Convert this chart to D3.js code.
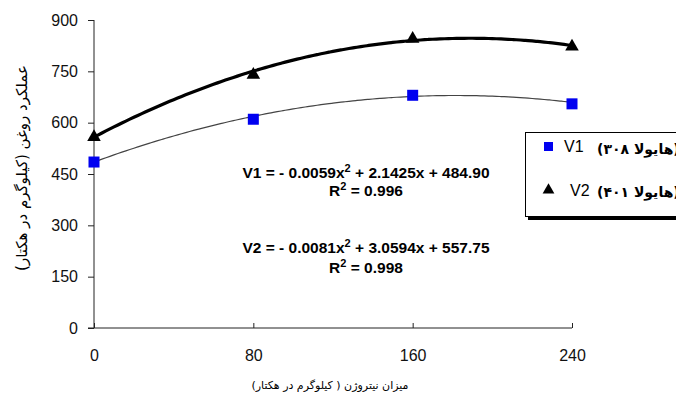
<!DOCTYPE html>
<html>
<head>
<meta charset="utf-8">
<script src="https://cdn.jsdelivr.net/npm/d3@7"></script>
<style>
  html, body { margin: 0; padding: 0; background: white; overflow: hidden; }
  text { font-family: "Liberation Sans", Arial, sans-serif; }
  .fa { font-family: "DejaVu Sans", sans-serif; }
</style>
</head>
<body>
<svg id="chart" width="676" height="401"></svg>
<script>
const nitrogen = [0, 80, 160, 240];
const v1Values = [485, 610, 680, 655];
const v2Values = [558, 740, 845, 822];
const yTicks = [0, 150, 300, 450, 600, 750, 900];

// trendline coefficients [a, b, c] for a*x^2 + b*x + c, as printed on the chart
const v1Coef = [-0.0059, 2.1425, 484.90];
const v2Coef = [-0.0081, 3.0594, 557.75];

const v1Label = "V1";
const v2Label = "V2";
const v1Name = "(هایولا ۳۰۸)";
const v2Name = "(هایولا ۴۰۱)";
const yTitle = "عملکرد روغن (کیلوگرم در هکتار)";
const xTitle = "میزان نیتروژن ( کیلوگرم در هکتار)";

const svg = d3.select("#chart");

const x = d3.scaleLinear().domain([0, 240]).range([94, 572]);
const y = d3.scaleLinear().domain([0, 900]).range([328, 20]);

// Y axis
const yAxis = svg.append("g")
  .attr("transform", `translate(${x(0)},0)`)
  .call(d3.axisLeft(y).tickValues(yTicks).tickSize(6).tickPadding(10));
yAxis.select(".domain").attr("stroke", "#222").attr("d", `M0,${y(900)}V${y(0)}`);
yAxis.selectAll(".tick line").attr("stroke", "#222");
yAxis.selectAll(".tick text")
  .attr("font-size", 16)
  .attr("fill", "#111")
  .attr("font-family", "Liberation Sans, Arial, sans-serif");

// X axis (ticks point inward)
const xAxis = svg.append("g")
  .attr("transform", `translate(0,${y(0)})`)
  .call(d3.axisBottom(x).tickValues(nitrogen).tickSize(-5).tickPadding(22));
xAxis.select(".domain").attr("stroke", "#222").attr("d", `M${x(0) - 6},0H${x(240)}`);
xAxis.selectAll(".tick line").attr("stroke", "#222");
xAxis.selectAll(".tick text")
  .attr("font-size", 16)
  .attr("fill", "#111")
  .attr("font-family", "Liberation Sans, Arial, sans-serif");

// Trendlines
const curve = (coef) => d3.range(0, 241, 2).map((n) => [n, coef[0] * n * n + coef[1] * n + coef[2]]);
const line = d3.line().x((d) => x(d[0])).y((d) => y(d[1])).curve(d3.curveBasis);

svg.append("path")
  .datum(curve(v1Coef))
  .attr("d", line)
  .attr("fill", "none")
  .attr("stroke", "#444")
  .attr("stroke-width", 1.2);

svg.append("path")
  .datum(curve(v2Coef))
  .attr("d", line)
  .attr("fill", "none")
  .attr("stroke", "#000")
  .attr("stroke-width", 3.2);

// Markers
const sq = 11;
svg.append("g").selectAll("rect")
  .data(nitrogen.map((n, i) => [n, v1Values[i]]))
  .join("rect")
  .attr("x", (d) => x(d[0]) - sq / 2)
  .attr("y", (d) => y(d[1]) - sq / 2)
  .attr("width", sq)
  .attr("height", sq)
  .attr("fill", "#0000f0");

const tri = d3.symbol().type(d3.symbolTriangle).size(80);
svg.append("g").selectAll("path")
  .data(nitrogen.map((n, i) => [n, v2Values[i]]))
  .join("path")
  .attr("d", tri)
  .attr("transform", (d) => `translate(${x(d[0])},${y(d[1])})`)
  .attr("fill", "#000");

// Equations
const eqs = svg.append("g")
  .attr("font-weight", "bold")
  .attr("font-size", 15.5)
  .attr("text-anchor", "middle")
  .attr("fill", "#000");

function equation(yPos, name, coef) {
  const t = eqs.append("text").attr("x", 366).attr("y", yPos);
  t.append("tspan").text(`${name} = - ${Math.abs(coef[0]).toFixed(4)}x`);
  t.append("tspan").attr("font-size", 11).attr("dy", -6).text("2");
  t.append("tspan").attr("dy", 6).text(` + ${coef[1].toFixed(4)}x + ${coef[2].toFixed(2)}`);
}
function rsq(yPos, val) {
  const t = eqs.append("text").attr("x", 366).attr("y", yPos);
  t.append("tspan").text("R");
  t.append("tspan").attr("font-size", 11).attr("dy", -6).text("2");
  t.append("tspan").attr("dy", 6).text(` = ${val}`);
}
equation(178, v1Label, v1Coef);
rsq(196, "0.996");
equation(253, v2Label, v2Coef);
rsq(273, "0.998");

// Legend
const lg = svg.append("g");
lg.append("rect").attr("x", 528).attr("y", 135).attr("width", 200).attr("height", 85).attr("fill", "#000");
lg.append("rect").attr("x", 525.5).attr("y", 132.5).attr("width", 200).attr("height", 84)
  .attr("fill", "#fff").attr("stroke", "#000").attr("stroke-width", 1);
lg.append("rect").attr("x", 544).attr("y", 142).attr("width", 9).attr("height", 9).attr("fill", "#0000f0");
lg.append("path").attr("d", d3.symbol().type(d3.symbolTriangle).size(60))
  .attr("transform", "translate(548.5,190)").attr("fill", "#000");
lg.append("text").attr("x", 564).attr("y", 152).attr("font-size", 16).text(v1Label);
lg.append("text").attr("x", 570).attr("y", 196).attr("font-size", 16).text(v2Label);
lg.append("text").attr("class", "fa").attr("x", 597).attr("y", 154).attr("font-size", 14)
  .attr("font-weight", "bold").text("\u2067" + v1Name + "\u2069");
lg.append("text").attr("class", "fa").attr("x", 597).attr("y", 197).attr("font-size", 14)
  .attr("font-weight", "bold").text("\u2067" + v2Name + "\u2069");

// Axis titles
svg.append("text")
  .attr("class", "fa")
  .attr("transform", "translate(27,168) rotate(-90)")
  .attr("text-anchor", "middle")
  .attr("direction", "rtl")
  .attr("font-size", 15)
  .text(yTitle);

svg.append("text")
  .attr("class", "fa")
  .attr("x", 330)
  .attr("y", 389)
  .attr("text-anchor", "middle")
  .attr("direction", "rtl")
  .attr("font-size", 11)
  .text(xTitle);
</script>
</body>
</html>
